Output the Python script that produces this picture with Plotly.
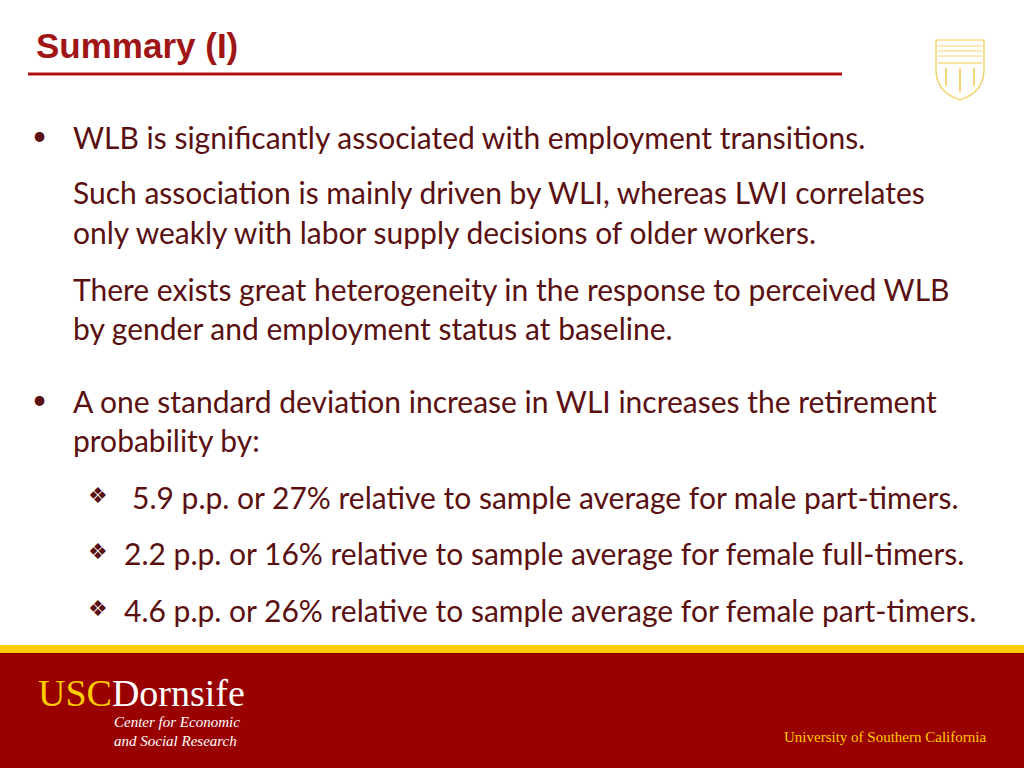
import plotly.graph_objects as go

title = "Summary (I)"
# (x, y, text) for each body line, in slide pixels
body_x = [71, 71, 71, 71, 71, 71, 71, 130, 122, 122]
body_y = [137, 192, 232, 289, 328, 401, 440, 497, 553, 610]
body_text = [
    "WLB is significantly associated with employment transitions.",
    "Such association is mainly driven by WLI, whereas LWI correlates",
    "only weakly with labor supply decisions of older workers.",
    "There exists great heterogeneity in the response to perceived WLB",
    "by gender and employment status at baseline.",
    "A one standard deviation increase in WLI increases the retirement",
    "probability by:",
    "5.9 p.p. or 27% relative to sample average for male part-timers.",
    "2.2 p.p. or 16% relative to sample average for female full-timers.",
    "4.6 p.p. or 26% relative to sample average for female part-timers.",
]
bullet_y = [137, 401]
diamond_y = [497, 553, 610]

TXT = "#5a1010"
RED = "#990000"
GOLD = "#ffcc00"
FONT = "Lato"
SEAL = "#f2c94c"

fig = go.Figure()
fig.add_trace(go.Scatter(x=[0, 1024], y=[0, 768], mode="markers", marker=dict(opacity=0), hoverinfo="skip"))

shapes = [
    dict(type="line", x0=28, x1=842, y0=74, y1=74, line=dict(color="#b01010", width=3)),
    dict(type="rect", x0=0, x1=1024, y0=645, y1=653, fillcolor=GOLD, line_width=0),
    dict(type="rect", x0=0, x1=1024, y0=653, y1=768, fillcolor=RED, line_width=0),
    # shield outline
    dict(type="path", path="M 936 40 L 984 40 L 984 70 Q 984 92 960 100 Q 936 92 936 70 Z",
         line=dict(color=SEAL, width=1.2)),
    dict(type="path", path="M 952 62 A 8 7 0 0 1 968 62 Z", line=dict(color=SEAL, width=1)),
    dict(type="line", x0=938, x1=982, y0=63, y1=63, line=dict(color=SEAL, width=1)),
]
for px in (946, 960, 974):
    shapes.append(dict(type="line", x0=px, x1=px, y0=68, y1=92 if px == 960 else 86,
                       line=dict(color=SEAL, width=1.5)))
for yy in (46, 51, 56):
    shapes.append(dict(type="line", x0=938, x1=982, y0=yy, y1=yy, line=dict(color=SEAL, width=0.8)))

ann = [dict(x=34, y=45, text="<b>" + title + "</b>", xanchor="left", yanchor="middle", showarrow=False,
            font=dict(family="Liberation Sans", size=35, color="#a01515"))]
for x, y, t in zip(body_x, body_y, body_text):
    ann.append(dict(x=x, y=y, text=t, xanchor="left", yanchor="middle", showarrow=False,
                    font=dict(family=FONT, size=30, color=TXT)))
for y in bullet_y:
    ann.append(dict(x=30, y=y - 2, text="•", xanchor="left", yanchor="middle", showarrow=False,
                    font=dict(family=FONT, size=26, color=TXT)))
for y in diamond_y:
    ann.append(dict(x=86, y=y - 2, text="❖", xanchor="left", yanchor="middle", showarrow=False,
                    font=dict(family="DejaVu Sans", size=22, color=TXT)))

ann += [
    dict(x=36, y=693, text="<span style='color:#ffcc00'>USC</span>Dornsife", xanchor="left", yanchor="middle",
         showarrow=False, font=dict(family="Liberation Serif", size=38, color="white")),
    dict(x=112, y=722, text="<i>Center for Economic</i>", xanchor="left", yanchor="middle",
         showarrow=False, font=dict(family="Liberation Serif", size=15, color="white")),
    dict(x=112, y=741, text="<i>and Social Research</i>", xanchor="left", yanchor="middle",
         showarrow=False, font=dict(family="Liberation Serif", size=15, color="white")),
    dict(x=988, y=737, text="University of Southern California", xanchor="right", yanchor="middle",
         showarrow=False, font=dict(family="Liberation Serif", size=15, color="#ffcc00")),
]

fig.update_layout(
    width=1024, height=768, margin=dict(l=0, r=0, t=0, b=0),
    paper_bgcolor="white", plot_bgcolor="white", showlegend=False,
    xaxis=dict(range=[0, 1024], visible=False, fixedrange=True),
    yaxis=dict(range=[768, 0], visible=False, fixedrange=True),
    shapes=shapes, annotations=ann,
)
fig.write_html("out.html", config={"displayModeBar": False},
               post_script="document.body.style.margin='0';document.body.style.overflow='hidden';")
